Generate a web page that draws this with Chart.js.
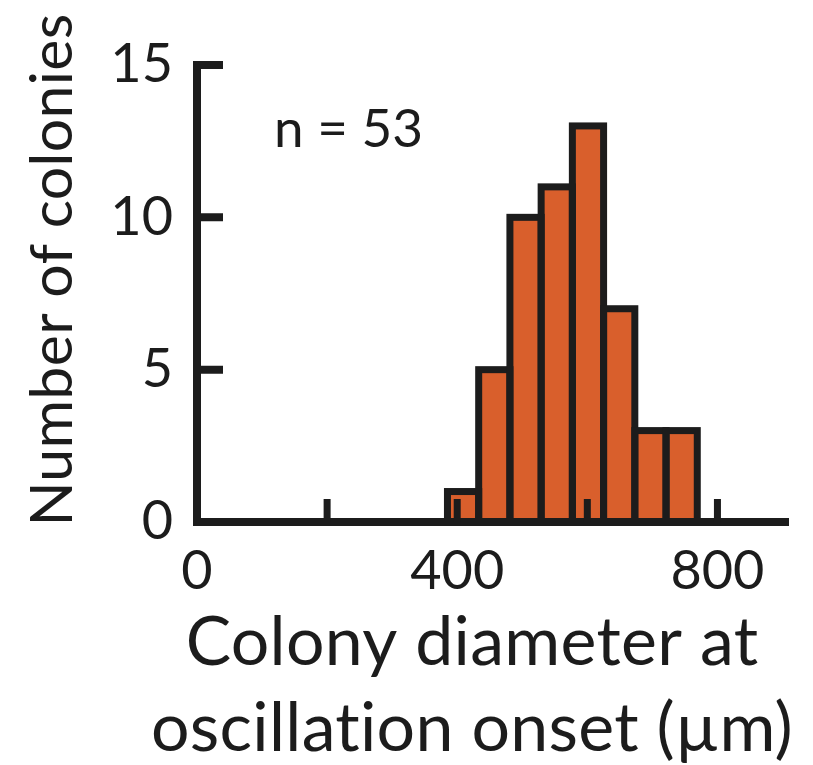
<!DOCTYPE html>
<html>
<head>
<meta charset="utf-8">
<script src="https://cdn.jsdelivr.net/npm/chart.js@4.4.1/dist/chart.umd.min.js"></script>
<style>
  body { margin: 0; background: #fff; }
  #wrap { width: 813px; height: 765px; }
</style>
</head>
<body>
<div id="wrap"><canvas id="chart" width="813" height="765"></canvas></div>
<script>
// histogram bins (µm) and counts, n = 53
const binEdges = [385, 433, 481, 529, 577, 625, 673, 721, 769];
const counts = [1, 5, 10, 11, 13, 7, 3, 3];
const xTicks = [0, 200, 400, 600, 800];
const xLabels = [0, 400, 800];
const yTicks = [0, 5, 10, 15];

const INK = "#1c1c1c";
const FILL = "#d95f2c";
const FONT = 'Lato, "Open Sans", sans-serif';

const points = counts.map((c, i) => ({ x: (binEdges[i] + binEdges[i + 1]) / 2, y: c }));

// outlines, axes and inward ticks go on top of the bars
const axesPlugin = {
  id: "axesOnTop",
  afterDatasetsDraw(chart) {
    const ctx = chart.ctx;
    const xs = chart.scales.x, ys = chart.scales.y;
    const area = chart.chartArea;
    const meta = chart.getDatasetMeta(0);

    ctx.save();
    ctx.strokeStyle = INK;
    ctx.lineWidth = 7;
    meta.data.forEach(bar => {
      const p = bar.getProps(["x", "y", "base", "width"], true);
      ctx.strokeRect(p.x - p.width / 2, p.y, p.width, p.base - p.y);
    });

    const x0 = xs.getPixelForValue(0);
    const y0 = ys.getPixelForValue(0);
    ctx.lineWidth = 8;
    ctx.beginPath();
    ctx.moveTo(x0, ys.getPixelForValue(15) - 4);
    ctx.lineTo(x0, y0 + 4);
    ctx.moveTo(x0 - 4, y0);
    ctx.lineTo(area.right, y0);
    ctx.stroke();

    ctx.lineWidth = 8;
    ctx.beginPath();
    yTicks.filter(v => v > 0).forEach(v => {
      const py = ys.getPixelForValue(v);
      ctx.moveTo(x0, py);
      ctx.lineTo(x0 + 26, py);
    });
    ctx.stroke();

    ctx.lineWidth = 7;
    ctx.beginPath();
    xTicks.filter(v => v > 0).forEach(v => {
      const px = xs.getPixelForValue(v);
      ctx.moveTo(px, y0);
      ctx.lineTo(px, y0 - 23);
    });
    ctx.stroke();
    ctx.restore();
  },
  afterDraw(chart) {
    const ctx = chart.ctx;
    ctx.save();
    ctx.fillStyle = INK;
    ctx.textAlign = "left";
    ctx.textBaseline = "alphabetic";
    ctx.font = "53px " + FONT;
    ctx.fillText("n = 53", 274, 147);

    // a little spacing also keeps Lato from joining "ti"
    ctx.letterSpacing = "0.3px";
    ctx.font = "68px " + FONT;
    ctx.textAlign = "center";
    ctx.fillText("Colony diameter at", 472, 665);
    ctx.fillText("oscillation onset (µm)", 472, 751);

    ctx.font = "59px " + FONT;
    ctx.translate(72, 270);
    ctx.rotate(-Math.PI / 2);
    ctx.fillText("Number of colonies", 0, 0);
    ctx.restore();
  }
};

new Chart(document.getElementById("chart"), {
  type: "bar",
  data: {
    datasets: [{
      data: points,
      backgroundColor: FILL,
      borderWidth: 0,
      barPercentage: 1,
      categoryPercentage: 1
    }]
  },
  options: {
    responsive: false,
    animation: false,
    devicePixelRatio: 1,
    layout: { padding: { top: 65, right: 24, left: 0, bottom: 0 } },
    plugins: {
      legend: { display: false },
      tooltip: { enabled: false }
    },
    scales: {
      x: {
        type: "linear",
        min: 0,
        max: 910,
        offset: false,
        grid: { display: false, drawTicks: false },
        border: { display: false },
        afterBuildTicks: s => { s.ticks = xTicks.map(v => ({ value: v })); },
        afterFit: s => { s.height = 243; },
        ticks: {
          autoSkip: false,
          maxRotation: 0,
          padding: 17,
          color: INK,
          font: { family: FONT, size: 54 },
          callback: v => xLabels.includes(v) ? String(v) : ""
        }
      },
      y: {
        min: 0,
        max: 15,
        grid: { display: false, drawTicks: false },
        border: { display: false },
        afterBuildTicks: s => { s.ticks = yTicks.map(v => ({ value: v })); },
        afterFit: s => { s.width = 197; },
        ticks: {
          padding: 24,
          color: INK,
          font: { family: FONT, size: 54 }
        }
      }
    }
  },
  plugins: [axesPlugin]
});
</script>
</body>
</html>
